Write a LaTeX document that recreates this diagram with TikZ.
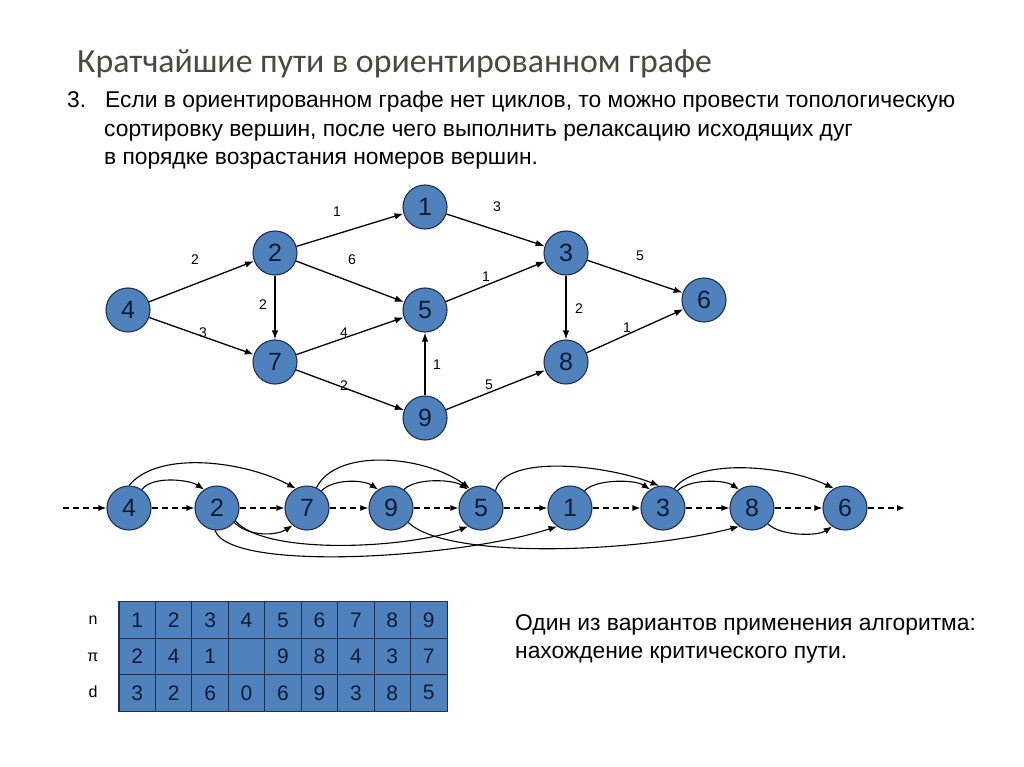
\documentclass[tikz,border=0pt]{standalone}
\usepackage{fontspec}
\setmainfont{Liberation Sans}
\newfontfamily\titlefont{Carlito}
\usetikzlibrary{arrows.meta}
\definecolor{vfill}{HTML}{4F81BD}
\definecolor{vborder}{HTML}{1F2F4F}
\definecolor{vtext}{HTML}{101C33}
\definecolor{titlecol}{HTML}{4A4A3C}
\begin{document}
\begin{tikzpicture}[x=1pt,y=-1pt,
  vtx/.style={circle, draw=vborder, fill=vfill, line width=1.1pt, minimum size=44pt, inner sep=0pt, font=\fontsize{25}{25}\selectfont, text=vtext},
  arc/.style={-{Latex[length=9pt,width=6.5pt]}, line width=1.3pt},
  sarc/.style={-{Latex[length=8.5pt,width=6.5pt]}, line width=1.1pt},
  chain/.style={-{Latex[length=8pt,width=6pt]}, line width=1.2pt, dash pattern=on 6pt off 4pt},
  lbl/.style={font=\fontsize{14}{14}\selectfont},
  body/.style={anchor=base west, font=\fontsize{22.8}{23}\selectfont, inner sep=0pt},
  cell/.style={draw=vborder, fill=vfill, line width=0.8pt, minimum width=36.44pt, minimum height=36.3pt, inner sep=0pt, font=\fontsize{21}{21}\selectfont, text=vtext},
  rowlbl/.style={font=\fontsize{16}{16}\selectfont}
]
\useasboundingbox (0,0) rectangle (1024,767);

% title and text
\node[anchor=base west, inner sep=0pt, font=\titlefont\fontsize{33.8}{34}\selectfont, text=titlecol] (title) at (77,73) {Кратчайшие пути в ориентированном графе};
\node[body] (num) at (67,108) {3.};
\node[body] (l1) at (105,108) {Если в ориентированном графе нет циклов, то можно провести топологическую};
\node[body] (l2) at (104,137) {сортировку вершин, после чего выполнить релаксацию исходящих дуг};
\node[body] (l3) at (104,165) {в порядке возрастания номеров вершин.};
\node[body] (r1) at (515,630) {Один из вариантов применения алгоритма:};
\node[body] (r2) at (515,658) {нахождение критического пути.};

% graph
\node[vtx] (g4) at (128,310) {4};
\node[vtx] (g2) at (275,253) {2};
\node[vtx] (g7) at (275,362) {7};
\node[vtx] (g1) at (425,207) {1};
\node[vtx] (g5) at (425,310) {5};
\node[vtx] (g9) at (425,418) {9};
\node[vtx] (g3) at (566,253) {3};
\node[vtx] (g8) at (566,362) {8};
\node[vtx] (g6) at (704,300) {6};

\draw[arc] (g4) -- (g2);
\draw[arc] (g4) -- (g7);
\draw[arc] (g2) -- (g1);
\draw[arc] (g2) -- (g5);
\draw[arc] (g2) -- (g7);
\draw[arc] (g7) -- (g5);
\draw[arc] (g7) -- (g9);
\draw[arc] (g9) -- (g5);
\draw[arc] (g9) -- (g8);
\draw[arc] (g1) -- (g3);
\draw[arc] (g5) -- (g3);
\draw[arc] (g3) -- (g8);
\draw[arc] (g3) -- (g6);
\draw[arc] (g8) -- (g6);

\node[lbl] (w42) at (195,260) {2};
\node[lbl] (w47) at (203,333) {3};
\node[lbl] (w21) at (337,212) {1};
\node[lbl] (w25) at (352,260) {6};
\node[lbl] (w27) at (263,305) {2};
\node[lbl] (w75) at (344,333) {4};
\node[lbl] (w79) at (344,386) {2};
\node[lbl] (w95) at (437,365) {1};
\node[lbl] (w13) at (497,207) {3};
\node[lbl] (w53) at (486,277) {1};
\node[lbl] (w98) at (489,385) {5};
\node[lbl] (w38) at (579,309) {2};
\node[lbl] (w36) at (640,256) {5};
\node[lbl] (w86) at (627,328) {1};

% chain
\node[vtx] (c4) at (129,508) {4};
\node[vtx] (c2) at (217,508) {2};
\node[vtx] (c7) at (307,508) {7};
\node[vtx] (c9) at (391,508) {9};
\node[vtx] (c5) at (481,508) {5};
\node[vtx] (c1) at (570,508) {1};
\node[vtx] (c3) at (663,508) {3};
\node[vtx] (c8) at (752,508) {8};
\node[vtx] (c6) at (845,508) {6};
\coordinate (cs) at (63,508);
\coordinate (ce) at (905,508);
\draw[chain] (cs) -- (c4);
\draw[chain] (c4) -- (c2);
\draw[chain] (c2) -- (c7);
\draw[chain] (c7) -- (c9);
\draw[chain] (c9) -- (c5);
\draw[chain] (c5) -- (c1);
\draw[chain] (c1) -- (c3);
\draw[chain] (c3) -- (c8);
\draw[chain] (c8) -- (c6);
\draw[chain] (c6) -- (ce);

% arcs above
\draw[sarc] (c4.55) .. controls +(10,-14) and +(-15,-10) .. (c2.125);
\draw[sarc] (c4.90) .. controls +(30,-36) and +(-50,-27) .. (c7.120);
\draw[sarc] (c7.50) .. controls +(12,-12) and +(-15,-10) .. (c9.125);
\draw[sarc] (c7.65) .. controls +(20,-40) and +(-45,-33) .. (c5.120);
\draw[sarc] (c9.55) .. controls +(12,-12) and +(-15,-10) .. (c5.125);
\draw[sarc] (c5.50) .. controls +(10,-38) and +(-50,-20) .. (c3.100);
\draw[sarc] (c1.50) .. controls +(12,-12) and +(-15,-10) .. (c3.125);
\draw[sarc] (c3.50) .. controls +(12,-12) and +(-15,-10) .. (c8.125);
\draw[sarc] (c3.60) .. controls +(25,-32) and +(-45,-22) .. (c6.120);
% arcs below
\draw[sarc] (c2.-40) .. controls +(15,15) and +(-15,10) .. (c7.-130);
\draw[sarc] (c2.-35) .. controls +(30,35) and +(-60,22) .. (c5.-125);
\draw[sarc] (c2.-95) .. controls +(15,42) and +(-100,32) .. (c1.-125);
\draw[sarc] (c9.-40) .. controls +(40,38) and +(-100,26) .. (c8.-125);
\draw[sarc] (c8.-45) .. controls +(12,12) and +(-15,10) .. (c6.-125);

% table
\foreach \v [count=\i] in {1,...,9} {
  \node[cell] (tn\i) at ({119+36.44*(\i-0.5)},620) {\v};
}
\foreach \v [count=\i] in {2,4,1,{},9,8,4,3,7} {
  \node[cell] (tp\i) at ({119+36.44*(\i-0.5)},656.5) {\v};
}
\foreach \v [count=\i] in {3,2,6,0,6,9,3,8,5} {
  \node[cell] (td\i) at ({119+36.44*(\i-0.5)},692.8) {\v};
}
\draw[vborder, line width=1.1pt] (tn1.north west) rectangle (td9.south east);
\node[rowlbl] (rn) at (93,620) {n};
\node[rowlbl] (rp) at (93,657) {π};
\node[rowlbl] (rd) at (93,692) {d};
\end{tikzpicture}
\end{document}
